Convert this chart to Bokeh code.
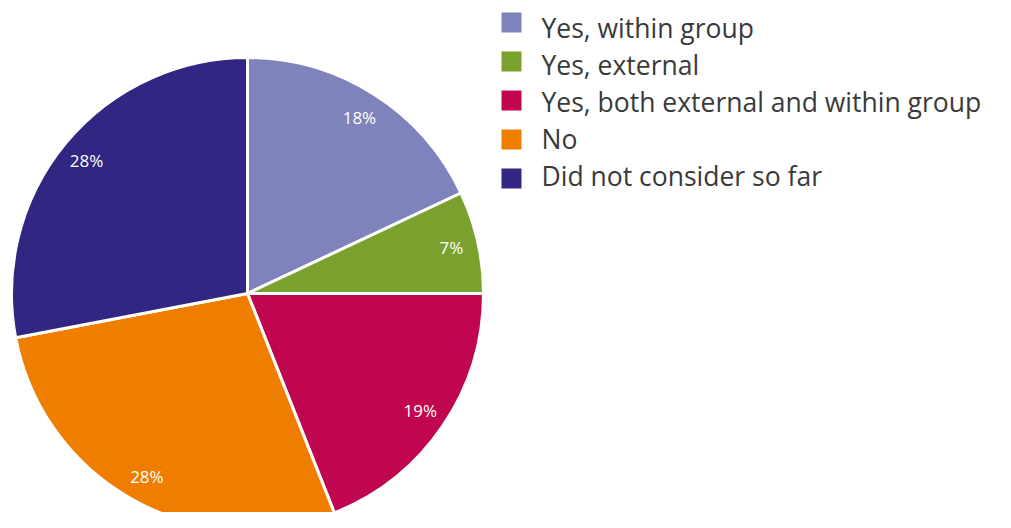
import math
from bokeh.plotting import figure
from bokeh.models import Range1d, ColumnDataSource
from bokeh.core.properties import value
from bokeh.embed import file_html
from bokeh.resources import INLINE

categories = ["Yes, within group", "Yes, external", "Yes, both external and within group", "No", "Did not consider so far"]
shares = [18, 7, 19, 28, 28]
labels = ["18%", "7%", "19%", "28%", "28%"]
colors = ["#7f83bb", "#7aa02e", "#c0064e", "#ef7d00", "#312783"]

W, H = 995, 512
p = figure(width=W, height=H, output_backend="svg", toolbar_location=None,
           x_range=Range1d(0, W), y_range=Range1d(528 - H, 528),
           min_border=0)
p.axis.visible = False
p.grid.visible = False
p.outline_line_color = None
p.background_fill_color = "white"

cx, cy, r = 247, 528 - 293, 236
total = sum(shares)
starts, ends, lx, ly = [], [], [], []
cum = 0.0
for s in shares:
    a0 = math.pi / 2 - 2 * math.pi * cum / total
    cum += s
    a1 = math.pi / 2 - 2 * math.pi * cum / total
    starts.append(a0)
    ends.append(a1)
    mid = (a0 + a1) / 2
    lx.append(cx + 0.885 * r * math.cos(mid))
    ly.append(cy + 0.885 * r * math.sin(mid))

src = ColumnDataSource(dict(start=starts, end=ends, color=colors, lx=lx, ly=ly, label=labels,
                            cat=categories))
p.wedge(x=cx, y=cy, radius=r, start_angle="start", end_angle="end", direction="clock",
        fill_color="color", line_color="white", line_width=3, source=src)
p.text(x="lx", y="ly", text="label", source=src, text_color="white",
       text_font=value("Open Sans"), text_font_size="17px",
       text_align="center", text_baseline="middle")

# legend
n = len(categories)
lbase = [528 - 27 - i * 37 for i in range(n)]
sq_y = [528 - 22 - i * 39 for i in range(n)]
lsrc = ColumnDataSource(dict(y=lbase, sy=sq_y, cat=categories, color=colors))
p.scatter(x=511, y="sy", size=20, marker="square", fill_color="color", line_color=None, source=lsrc)
p.text(x=541, y="y", text="cat", source=lsrc, text_color="#3a3a3a",
       text_font=value("Open Sans"), text_font_size="26.5px",
       text_align="left", text_baseline="alphabetic")

open("out.html", "w").write(file_html(p, INLINE))
